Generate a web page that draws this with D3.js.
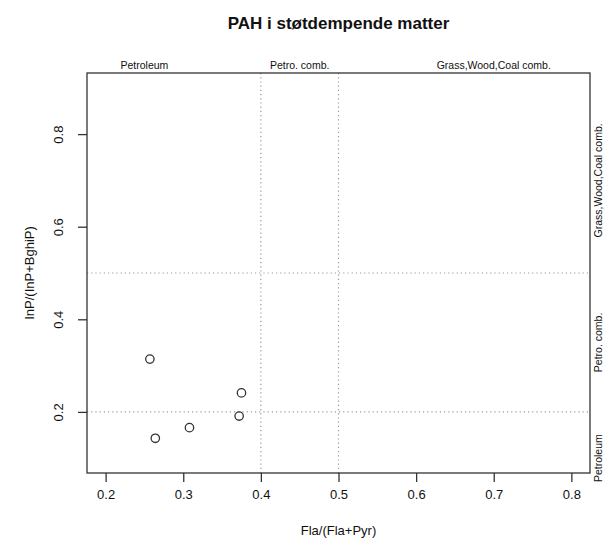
<!DOCTYPE html>
<html>
<head>
<meta charset="utf-8">
<script src="https://cdn.jsdelivr.net/npm/d3@7/dist/d3.min.js"></script>
<style>
  body { margin: 0; background: #fff; }
  svg { display: block; font-family: "Liberation Sans", Arial, sans-serif; }
</style>
</head>
<body>
<div id="chart"></div>
<script>
// PAH diagnostic ratio plot — Fla/(Fla+Pyr) vs InP/(InP+BghiP)

const flaRatio = [0.257, 0.375, 0.372, 0.308, 0.264];
const inpRatio = [0.314, 0.241, 0.191, 0.166, 0.143];

const xTicks = [0.2, 0.3, 0.4, 0.5, 0.6, 0.7, 0.8];
const yTicks = [0.2, 0.4, 0.6, 0.8];

const xCuts = [0.4, 0.5];
const yCuts = [0.2, 0.5];

const zoneNames = ['Petroleum', 'Petro. comb.', 'Grass,Wood,Coal comb.'];
const xZonePos  = [0.25, 0.45, 0.7];
const yZonePos  = [0.1, 0.35, 0.7];

const W = 606, H = 554;
const box = { left: 87, right: 590, top: 73, bottom: 473 };

const svg = d3.select('#chart').append('svg')
  .attr('width', W).attr('height', H);

const x = d3.scaleLinear().domain([0.176, 0.824]).range([box.left, box.right]);
const y = d3.scaleLinear().domain([0.068, 0.932]).range([box.bottom, box.top]);

const ink = '#333';

// cut lines
const dotted = '1.2 3';
svg.append('g').selectAll('line').data(xCuts).join('line')
  .attr('x1', d => x(d)).attr('x2', d => x(d))
  .attr('y1', box.top).attr('y2', box.bottom)
  .attr('stroke', '#999').attr('stroke-width', 1.2)
  .attr('stroke-dasharray', dotted);

svg.append('g').selectAll('line').data(yCuts).join('line')
  .attr('y1', d => y(d)).attr('y2', d => y(d))
  .attr('x1', box.left).attr('x2', box.right)
  .attr('stroke', '#999').attr('stroke-width', 1.2)
  .attr('stroke-dasharray', dotted);

// frame
svg.append('rect')
  .attr('x', box.left).attr('y', box.top)
  .attr('width', box.right - box.left).attr('height', box.bottom - box.top)
  .attr('fill', 'none').attr('stroke', ink).attr('stroke-width', 1.3);

// x axis
const xAxis = svg.append('g')
  .attr('transform', `translate(0,${box.bottom})`)
  .call(d3.axisBottom(x).tickValues(xTicks).tickFormat(d3.format('.1f'))
    .tickSize(9).tickPadding(8));
xAxis.select('.domain').remove();
xAxis.selectAll('line').attr('stroke', ink).attr('stroke-width', 1.3);
xAxis.selectAll('text').attr('font-size', 13).attr('fill', '#111')
  .attr('font-family', '"Liberation Sans", Arial, sans-serif');

// y axis
const yAxis = svg.append('g')
  .attr('transform', `translate(${box.left},0)`)
  .call(d3.axisLeft(y).tickValues(yTicks).tickFormat(d3.format('.1f'))
    .tickSize(9).tickPadding(0));
yAxis.select('.domain').remove();
yAxis.selectAll('line').attr('stroke', ink).attr('stroke-width', 1.3);
yAxis.selectAll('text')
  .attr('font-size', 13).attr('fill', '#111')
  .attr('font-family', '"Liberation Sans", Arial, sans-serif')
  .attr('x', null).attr('dy', null)
  .attr('text-anchor', 'middle')
  .attr('transform', 'translate(-24,0) rotate(-90)');

// zone labels, top
svg.append('g').selectAll('text').data(zoneNames).join('text')
  .attr('x', (d, i) => x(xZonePos[i]))
  .attr('y', box.top - 4)
  .attr('text-anchor', 'middle')
  .attr('font-size', 10.5).attr('fill', '#111')
  .text(d => d);

// zone labels, right
svg.append('g').selectAll('text').data(zoneNames).join('text')
  .attr('transform', (d, i) => `translate(${box.right + 12},${y(yZonePos[i])}) rotate(-90)`)
  .attr('text-anchor', 'middle')
  .attr('font-size', 10.5).attr('fill', '#111')
  .text(d => d);

// points
svg.append('g').selectAll('circle').data(flaRatio).join('circle')
  .attr('cx', d => x(d))
  .attr('cy', (d, i) => y(inpRatio[i]))
  .attr('r', 4.2)
  .attr('fill', 'none').attr('stroke', ink).attr('stroke-width', 1.3);

// title and axis titles
svg.append('text')
  .attr('x', (box.left + box.right) / 2).attr('y', 29)
  .attr('text-anchor', 'middle')
  .attr('font-size', 17).attr('font-weight', 'bold').attr('fill', '#111')
  .text('PAH i støtdempende matter');

svg.append('text')
  .attr('x', (box.left + box.right) / 2).attr('y', 535)
  .attr('text-anchor', 'middle')
  .attr('font-size', 13).attr('fill', '#111')
  .text('Fla/(Fla+Pyr)');

svg.append('text')
  .attr('transform', `translate(34,${(box.top + box.bottom) / 2}) rotate(-90)`)
  .attr('text-anchor', 'middle')
  .attr('font-size', 13).attr('fill', '#111')
  .text('InP/(InP+BghiP)');
</script>
</body>
</html>
